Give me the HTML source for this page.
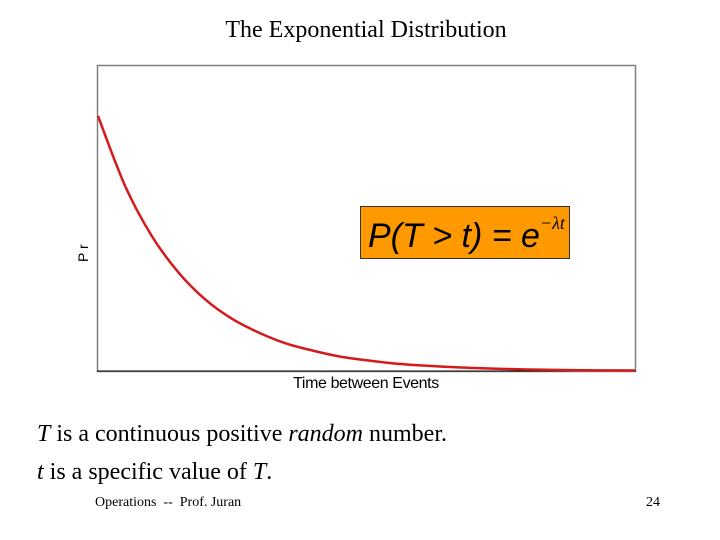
<!DOCTYPE html>
<html><head><meta charset="utf-8"><style>
body{margin:0;width:720px;height:540px;background:#fff;position:relative;overflow:hidden;font-family:"Liberation Serif",serif}
.t{position:absolute;white-space:pre}
</style></head><body>
<div class="t" style="left:0;width:732px;text-align:center;top:17px;font-size:24px">The Exponential Distribution</div>
<svg width="720" height="540" style="position:absolute;left:0;top:0">
<rect x="97.5" y="65.5" width="538" height="306" fill="#fff" stroke="#808080" stroke-width="1.5"/>
<line x1="97" y1="371" x2="636" y2="371" stroke="#000" stroke-width="1"/>
<path id="curve" fill="none" stroke="#d41a1a" stroke-width="2.5"/>
<text transform="translate(88,262) rotate(-90)" font-family="Liberation Sans,sans-serif" font-size="14">P r</text>
<text x="366" y="388" text-anchor="middle" font-family="Liberation Sans,sans-serif" font-size="16" letter-spacing="-0.4">Time between Events</text>
<rect x="360.5" y="206.5" width="209" height="52" fill="#ff9900" stroke="#333" stroke-width="1"/>
<text x="368" y="247" font-family="Liberation Sans,sans-serif" font-style="italic" font-size="34">P(T &gt; t) = e<tspan font-size="18" dy="-18" font-family="Liberation Serif,serif">−λt</tspan></text>
</svg>
<div class="t" style="left:37px;top:421px;font-size:24px"><i>T</i> is a continuous positive <i>random</i> number.</div>
<div class="t" style="left:37px;top:459px;font-size:24px"><i>t</i> is a specific value of <i>T</i>.</div>
<div class="t" style="left:95px;top:495px;font-size:14px">Operations  --  Prof. Juran</div>
<div class="t" style="left:646px;top:495px;font-size:14px">24</div>
<script>
const times=[0,0.5,1,1.5,2,2.5,3,3.5,4,4.5,5,5.5,6,6.5,7,7.5,8,8.5,9,9.5,10];
const probs=[1.0,0.728,0.53,0.386,0.28,0.204,0.15,0.108,0.08,0.057,0.042,0.03,0.022,0.016,0.012,0.0085,0.006,0.0045,0.003,0.0024,0.002];
const X0=98,X1=635,Y0=371,H=306;
const xs=t=>X0+(t/10)*(X1-X0);
const ys=v=>Y0-(v/1.2)*H;
const p=times.map((t,i)=>[xs(t),ys(probs[i])]);
let d=`M${p[0][0]},${p[0][1]}`;
for(let i=0;i<p.length-1;i++){
 const a=p[Math.max(0,i-1)],b=p[i],c=p[i+1],e=p[Math.min(p.length-1,i+2)];
 const c1=[b[0]+(c[0]-a[0])/6,b[1]+(c[1]-a[1])/6],c2=[c[0]-(e[0]-b[0])/6,c[1]-(e[1]-b[1])/6];
 d+=` C${c1[0]},${c1[1]} ${c2[0]},${c2[1]} ${c[0]},${c[1]}`;
}
document.getElementById('curve').setAttribute('d',d);
</script>
</body></html>
